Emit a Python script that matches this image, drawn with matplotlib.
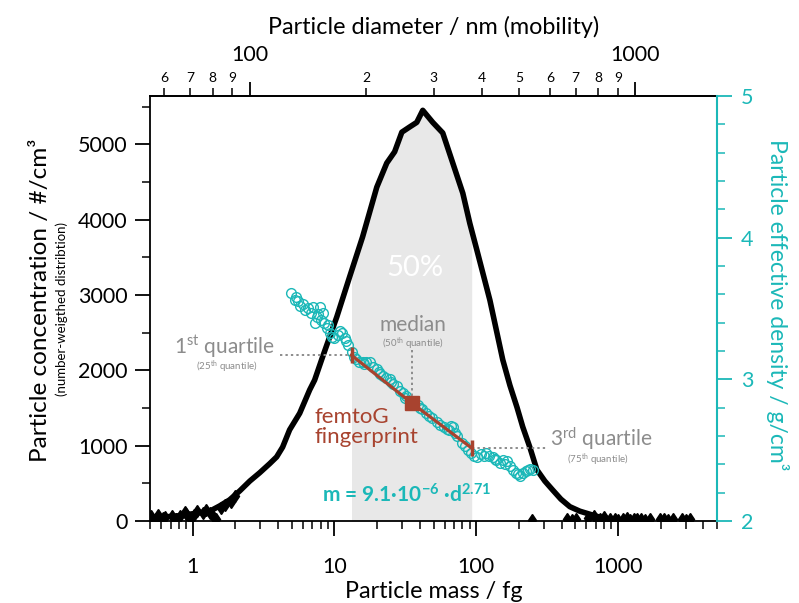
import numpy as np
import matplotlib.pyplot as plt
from matplotlib.ticker import MultipleLocator, NullFormatter, FixedLocator, FixedFormatter

plt.rcParams['font.family'] = ['Lato', 'DejaVu Sans']
plt.rcParams['mathtext.default'] = 'regular'

teal = '#1bb8b8'
rust = '#a8432f'
grey = '#8c8c8c'
shade = '#e8e8e8'

# number size distribution vs particle mass (fg, #/cm3)
mass = [0.505, 0.585, 0.688, 0.81, 0.95, 1.12, 1.32, 1.55, 1.82, 2.15,
        2.53, 2.97, 3.49, 3.91, 4.31, 4.83, 5.69, 6.69, 7.25, 8.26,
        10.4, 12.8, 15.8, 19.9, 23.4, 26.6, 29.9, 34.0, 38.1, 42.0,
        49.4, 58.1, 68.4, 80.5, 90.2, 101, 125, 154, 173, 194,
        213, 239, 268, 305, 347, 396, 458, 539, 634, 745,
        877]
conc = [50, 40, 60, 70, 90, 110, 130, 200, 280, 400,
        530, 640, 760, 850, 980, 1210, 1430, 1740, 1870, 2180,
        2710, 3240, 3770, 4430, 4750, 4900, 5160, 5230, 5290, 5450,
        5290, 5150, 4750, 4350, 3950, 3600, 2930, 2140, 1800, 1510,
        1250, 980, 680, 530, 410, 290, 190, 130, 90, 50,
        20]

# noisy low-count channels
noise_mass = [0.51, 0.55, 0.57, 0.62, 0.64, 0.71, 0.76, 0.81, 0.88, 0.90,
              0.95, 1.02, 1.08, 1.18, 1.25, 1.32, 1.40, 1.47, 1.58, 1.70,
              1.85, 2.0, 247, 436, 473, 504, 614, 680, 745, 800,
              877, 951, 1000, 1083, 1150, 1215, 1290, 1360, 1450, 1549,
              1680, 1976, 2100, 2250, 2440, 2823, 3000, 3217]
noise_conc = [60, 30, 80, 40, 50, 70, 30, 60, 120, 90,
              40, 80, 130, 100, 150, 110, 60, 20, 170, 210,
              250, 330, 10, 30, 10, 20, 40, 60, 30, 50,
              20, 30, 10, 20, 40, 10, 30, 20, 30, 10,
              20, 20, 30, 10, 20, 30, 10, 20]

# effective density (g/cm3)
dens_mass = [4.97, 5.25, 5.5, 5.69, 6.0, 6.47, 6.8, 7.03, 7.25, 7.5,
             7.87, 8.26, 8.5, 8.9, 9.25, 9.6, 10.0, 10.6, 11.0, 11.4,
             11.8, 12.4, 13.2, 13.8, 14.3, 15.0, 15.8, 16.7, 17.7, 18.8,
             19.9, 21.0, 21.9, 23.2, 24.5, 26.0, 27.5, 29.0, 30.4, 32.2,
             34.0, 36.3, 38.7, 41.5, 44.6, 48.5, 52.5, 56.0, 59.7, 64.0,
             68.4, 73.5, 79.2, 83.0, 87.0, 92.0, 101, 109, 118, 124,
             131, 139, 147, 155, 164, 172, 181, 192, 203, 214,
             226, 238, 250, 5.4, 6.2, 7.7, 8.0, 9.0, 12.0, 16.2,
             20.5, 25.2, 31.3, 40.1, 46.5, 62.0, 66.0, 70.5, 96.0, 113,
             135, 160, 197, 232]
dens = [3.61, 3.56, 3.55, 3.52, 3.53, 3.50, 3.47, 3.51, 3.40, 3.44,
        3.51, 3.47, 3.40, 3.36, 3.33, 3.30, 3.29, 3.31, 3.34, 3.33,
        3.29, 3.24, 3.19, 3.16, 3.14, 3.12, 3.12, 3.12, 3.12, 3.09,
        3.07, 3.04, 3.02, 3.01, 3.00, 2.97, 2.95, 2.92, 2.90, 2.88,
        2.85, 2.84, 2.82, 2.79, 2.76, 2.73, 2.70, 2.68, 2.66, 2.64,
        2.66, 2.60, 2.55, 2.53, 2.50, 2.48, 2.45, 2.47, 2.48, 2.46,
        2.45, 2.43, 2.41, 2.43, 2.42, 2.39, 2.36, 2.34, 2.32, 2.34,
        2.35, 2.37, 2.36, 3.58, 3.49, 3.46, 3.42, 3.38, 3.27, 3.11,
        3.05, 2.98, 2.87, 2.80, 2.74, 2.65, 2.67, 2.62, 2.46, 2.46,
        2.44, 2.40, 2.33, 2.36]

# quartiles and fit
q1, q2, q3 = 13.2, 35.4, 93.0
fit_mass = [q1, q2, q3]
fit_dens = [3.17, 2.83, 2.515]

# mass-mobility relation for top axis
k_mm, b_mm = 9.2e-6, 2.72

fig = plt.figure(figsize=(7.99, 6.03), dpi=100)
ax = fig.add_axes([150 / 799, 1 - 521 / 603, 567 / 799, 425 / 603])
ax2 = ax.twinx()

ax.set_xscale('log')
ax.set_xlim(0.5, 5000)
ax.set_ylim(0, 5640)

fm = np.logspace(np.log10(q1), np.log10(q3), 200)
fc = np.interp(np.log10(fm), np.log10(mass), conc)
ax.fill_between(fm, 0, fc, color=shade, lw=0, zorder=0)

ax.plot(mass, conc, color='black', lw=4.0, solid_joinstyle='round', zorder=2)
ax.plot(noise_mass, noise_conc, 'd', color='black', ms=6.5, zorder=2)

ax.text(36.9, 3357, '50%', color='white', fontsize=21, ha='center', va='center')

ax.spines['right'].set_visible(False)
for s in ax.spines.values():
    s.set_linewidth(1.3)
ax.yaxis.set_major_locator(MultipleLocator(1000))
ax.yaxis.set_minor_locator(MultipleLocator(500))
ax.xaxis.set_major_locator(FixedLocator([1, 10, 100, 1000]))
ax.xaxis.set_major_formatter(FixedFormatter(['1', '10', '100', '1000']))
ax.xaxis.set_minor_formatter(NullFormatter())
ax.tick_params(axis='x', which='major', length=11, width=1.3, pad=15, labelsize=15.5)
ax.tick_params(axis='x', which='minor', length=6, width=1.1)
ax.tick_params(axis='y', which='major', length=11, width=1.3, pad=5, labelsize=15.5)
ax.tick_params(axis='y', which='minor', length=5.5, width=1.1)

# top axis: mobility diameter
sec = ax.secondary_xaxis('top', functions=(
    lambda m: (np.maximum(m, 1e-12) / k_mm) ** (1 / b_mm),
    lambda d: k_mm * np.maximum(d, 1e-12) ** b_mm))
sec.set_xticks([100, 1000], ['100', '1000'])
minor_d = [60, 70, 80, 90, 200, 300, 400, 500, 600, 700, 800, 900]
sec.set_xticks(minor_d, [str(d)[0] for d in minor_d], minor=True)
sec.tick_params(which='major', length=10, width=1.3, pad=12, labelsize=15.5)
sec.tick_params(which='minor', length=5.5, width=1.1, pad=3, labelsize=10)
sec.spines['top'].set_linewidth(1.3)

# right axis: effective density
ax2.set_ylim(2, 5)
for side in ['left', 'top', 'bottom']:
    ax2.spines[side].set_visible(False)
ax2.spines['right'].set_color(teal)
ax2.spines['right'].set_linewidth(1.5)
ax2.yaxis.set_major_locator(MultipleLocator(1))
ax2.yaxis.set_minor_locator(MultipleLocator(0.2))
ax2.tick_params(axis='y', which='major', length=11, width=1.3, pad=6, labelsize=15.5,
                colors=teal)
ax2.tick_params(axis='y', which='minor', length=5.5, width=1.1, colors=teal)

ax2.plot(dens_mass, dens, 'o', mfc='none', mec=teal, ms=7, mew=1.0, zorder=3)
ax2.plot(fit_mass, fit_dens, '-', color=rust, lw=2.3, zorder=4)
ax2.plot([fit_mass[0], fit_mass[-1]], [fit_dens[0], fit_dens[-1]], '|', color=rust,
         ms=12, mew=2.5, zorder=4)
ax2.plot([fit_mass[1]], [fit_dens[1]], 's', color=rust, ms=10, zorder=5)

dot = dict(color=grey, lw=1.4, ls=(0, (1.2, 1.6)), zorder=3)
ax2.plot([4.1, q1], [fit_dens[0], fit_dens[0]], **dot)
ax2.plot([q2, q2], [3.21, fit_dens[1]], **dot)
ax2.plot([q3, 310], [fit_dens[2], fit_dens[2]], **dot)

ax.text(3.79, 2315, '1$^{st}$ quartile', color=grey, fontsize=15, ha='right', va='center')
ax.text(1.74, 2050, '(25$^{th}$ quantile)', color=grey, fontsize=7, ha='center', va='center')
ax.text(35.7, 2600, 'median', color=grey, fontsize=15, ha='center', va='center')
ax.text(35.7, 2355, '(50$^{th}$ quantile)', color=grey, fontsize=7, ha='center', va='center')
ax.text(330, 1090, '3$^{rd}$ quartile', color=grey, fontsize=15, ha='left', va='center')
ax.text(721, 810, '(75$^{th}$ quantile)', color=grey, fontsize=7, ha='center', va='center')
ax.text(7.26, 1247, 'femtoG\nfingerprint', color=rust, fontsize=16, ha='left',
        va='center', linespacing=0.95)
ax.text(8.13, 345, 'm = 9.1·10$^{-6}$ ·d$^{2.71}$', color=teal, fontsize=15,
        fontweight='bold', ha='left', va='center')

# axis titles
ax.text(0.5, -0.167, 'Particle mass / fg', transform=ax.transAxes, fontsize=16.8,
        ha='center', va='center')
ax.text(0.5, 1.162, 'Particle diameter / nm (mobility)', transform=ax.transAxes,
        fontsize=16.8, ha='center', va='center')
ax.text(-0.194, 0.52, 'Particle concentration / #/cm³', transform=ax.transAxes,
        fontsize=17.5, rotation=90, ha='center', va='center')
ax.text(-0.155, 0.50, '(number-weigthed distribtion)', transform=ax.transAxes,
        fontsize=9.5, rotation=90, ha='center', va='center')
ax.text(1.106, 0.51, 'Particle effective density / g/cm³', transform=ax.transAxes,
        fontsize=16.5, rotation=270, ha='center', va='center', color=teal)

fig.savefig('out.png', dpi=100)
